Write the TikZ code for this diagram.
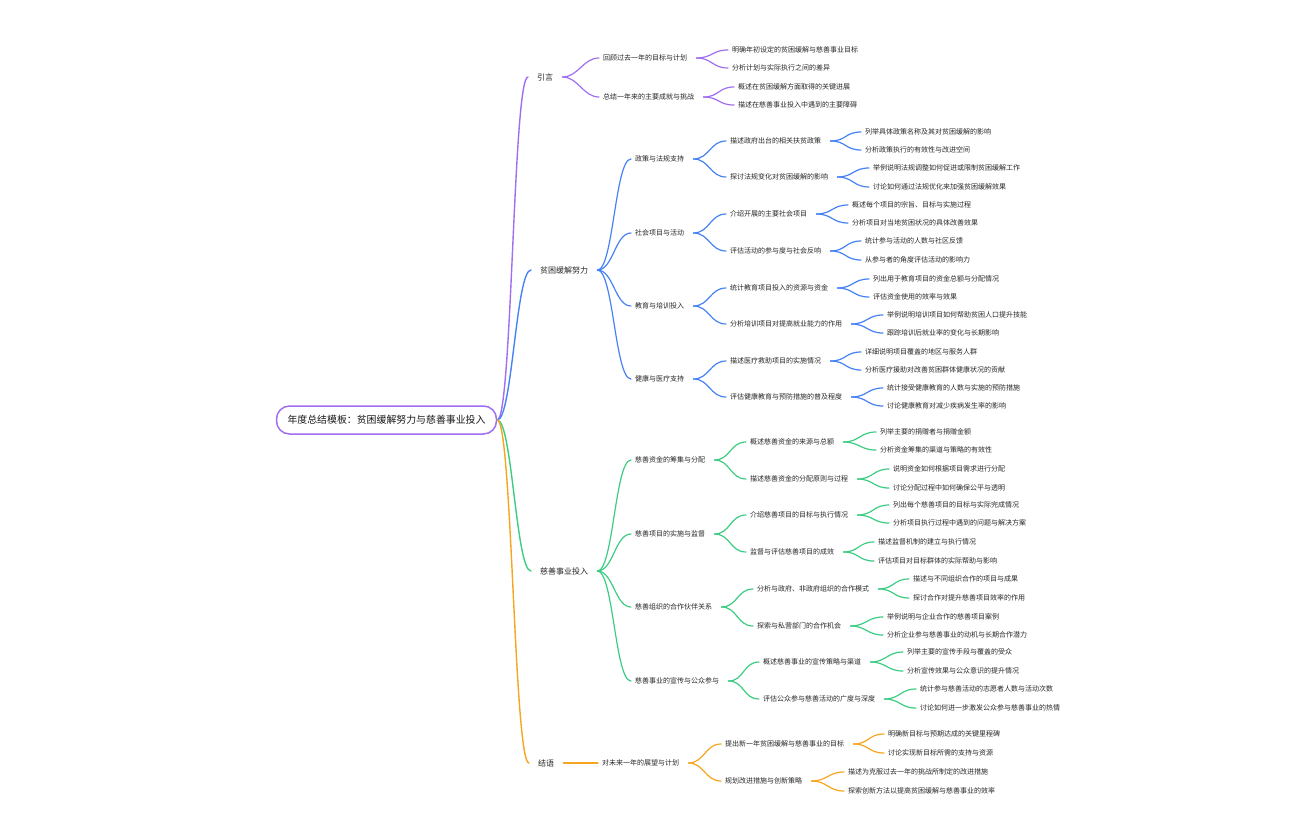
\documentclass[tikz,border=0pt]{standalone}
\usepackage{fontspec}
\usepackage{xcolor}
\usepackage{tikz}
\usetikzlibrary{positioning}
\newfontfamily\cjk{Noto Sans CJK SC}
\definecolor{mmpurple}{RGB}{160,110,240}
\definecolor{mmblue}{RGB}{70,130,245}
\definecolor{mmgreen}{RGB}{60,205,130}
\definecolor{mmorange}{RGB}{245,165,30}

\begin{document}
\begin{tikzpicture}[
            x=1pt, y=-1pt,
            rootbox/.style={rectangle, rounded corners=13pt, draw=mmpurple, line width=1.5pt,
                            fill=white, minimum height=28pt, inner xsep=11pt, text=black!90,
                            font=\cjk\fontsize{9.9}{12}\selectfont},
            topic/.style={anchor=west, inner sep=0pt, text=black!85, font=\cjk\fontsize{8}{10}\selectfont},
            sub/.style={anchor=west, inner sep=0pt, text=black!85, font=\cjk\fontsize{7}{9}\selectfont},
            trunk/.style={line width=1.4pt, line cap=round},
            link/.style={line width=1.2pt, line cap=round}
        ]
        \useasboundingbox (0,0) rectangle (1296,840);

        % ===== ROOT =====
        \node[rootbox] (root) at (386.5,420) {年度总结模板：贫困缓解努力与慈善事业投入};

        % ===== MAIN BRANCHES =====
        \node[topic] (intro) at (537,77) {引言};
        \node[topic] (pov) at (540,270) {贫困缓解努力};
        \node[topic] (char) at (540,571) {慈善事业投入};
        \node[topic] (concl) at (538,763) {结语};

        % ===== INTRO =====
        \node[sub] (i1) at (603,58) {回顾过去一年的目标与计划};
        \node[sub] (i11) at (732,50) {明确年初设定的贫困缓解与慈善事业目标};
        \node[sub] (i12) at (732,68) {分析计划与实际执行之间的差异};
        \node[sub] (i2) at (603,97) {总结一年来的主要成就与挑战};
        \node[sub] (i21) at (738,87) {概述在贫困缓解方面取得的关键进展};
        \node[sub] (i22) at (738,105) {描述在慈善事业投入中遇到的主要障碍};

        % ===== POVERTY RELIEF =====
        \node[sub] (p1) at (635,159) {政策与法规支持};
        \node[sub] (p11) at (730,141) {描述政府出台的相关扶贫政策};
        \node[sub] (p111) at (865,132) {列举具体政策名称及其对贫困缓解的影响};
        \node[sub] (p112) at (865,150) {分析政策执行的有效性与改进空间};
        \node[sub] (p12) at (730,177) {探讨法规变化对贫困缓解的影响};
        \node[sub] (p121) at (873,168) {举例说明法规调整如何促进或限制贫困缓解工作};
        \node[sub] (p122) at (873,187) {讨论如何通过法规优化来加强贫困缓解效果};

        \node[sub] (p2) at (635,233) {社会项目与活动};
        \node[sub] (p21) at (730,214) {介绍开展的主要社会项目};
        \node[sub] (p211) at (852,205) {概述每个项目的宗旨、目标与实施过程};
        \node[sub] (p212) at (852,223) {分析项目对当地贫困状况的具体改善效果};
        \node[sub] (p22) at (730,251) {评估活动的参与度与社会反响};
        \node[sub] (p221) at (865,241) {统计参与活动的人数与社区反馈};
        \node[sub] (p222) at (865,260) {从参与者的角度评估活动的影响力};

        \node[sub] (p3) at (635,306) {教育与培训投入};
        \node[sub] (p31) at (730,288) {统计教育项目投入的资源与资金};
        \node[sub] (p311) at (873,279) {列出用于教育项目的资金总额与分配情况};
        \node[sub] (p312) at (873,297) {评估资金使用的效率与效果};
        \node[sub] (p32) at (730,324) {分析培训项目对提高就业能力的作用};
        \node[sub] (p321) at (887,315) {举例说明培训项目如何帮助贫困人口提升技能};
        \node[sub] (p322) at (887,333) {跟踪培训后就业率的变化与长期影响};

        \node[sub] (p4) at (635,379) {健康与医疗支持};
        \node[sub] (p41) at (730,361) {描述医疗救助项目的实施情况};
        \node[sub] (p411) at (865,352) {详细说明项目覆盖的地区与服务人群};
        \node[sub] (p412) at (865,370) {分析医疗援助对改善贫困群体健康状况的贡献};
        \node[sub] (p42) at (730,397) {评估健康教育与预防措施的普及程度};
        \node[sub] (p421) at (887,388) {统计接受健康教育的人数与实施的预防措施};
        \node[sub] (p422) at (887,406) {讨论健康教育对减少疾病发生率的影响};

        % ===== CHARITY =====
        \node[sub] (c1) at (635,460) {慈善资金的筹集与分配};
        \node[sub] (c11) at (750,442) {概述慈善资金的来源与总额};
        \node[sub] (c111) at (880,432) {列举主要的捐赠者与捐赠金额};
        \node[sub] (c112) at (880,450) {分析资金筹集的渠道与策略的有效性};
        \node[sub] (c12) at (750,479) {描述慈善资金的分配原则与过程};
        \node[sub] (c121) at (893,469) {说明资金如何根据项目需求进行分配};
        \node[sub] (c122) at (893,488) {讨论分配过程中如何确保公平与透明};

        \node[sub] (c2) at (635,534) {慈善项目的实施与监督};
        \node[sub] (c21) at (750,515) {介绍慈善项目的目标与执行情况};
        \node[sub] (c211) at (893,505) {列出每个慈善项目的目标与实际完成情况};
        \node[sub] (c212) at (893,523) {分析项目执行过程中遇到的问题与解决方案};
        \node[sub] (c22) at (750,552) {监督与评估慈善项目的成效};
        \node[sub] (c221) at (878,542) {描述监督机制的建立与执行情况};
        \node[sub] (c222) at (878,561) {评估项目对目标群体的实际帮助与影响};

        \node[sub] (c3) at (635,607) {慈善组织的合作伙伴关系};
        \node[sub] (c31) at (757,589) {分析与政府、非政府组织的合作模式};
        \node[sub] (c311) at (913,579) {描述与不同组织合作的项目与成果};
        \node[sub] (c312) at (913,598) {探讨合作对提升慈善项目效率的作用};
        \node[sub] (c32) at (757,626) {探索与私营部门的合作机会};
        \node[sub] (c321) at (887,617) {举例说明与企业合作的慈善项目案例};
        \node[sub] (c322) at (887,635) {分析企业参与慈善事业的动机与长期合作潜力};

        \node[sub] (c4) at (635,681) {慈善事业的宣传与公众参与};
        \node[sub] (c41) at (763,662) {概述慈善事业的宣传策略与渠道};
        \node[sub] (c411) at (907,652) {列举主要的宣传手段与覆盖的受众};
        \node[sub] (c412) at (907,671) {分析宣传效果与公众意识的提升情况};
        \node[sub] (c42) at (763,699) {评估公众参与慈善活动的广度与深度};
        \node[sub] (c421) at (920,689) {统计参与慈善活动的志愿者人数与活动次数};
        \node[sub] (c422) at (920,708) {讨论如何进一步激发公众参与慈善事业的热情};

        % ===== CONCLUSION =====
        \node[sub] (e1) at (602,763) {对未来一年的展望与计划};
        \node[sub] (e11) at (725,744) {提出新一年贫困缓解与慈善事业的目标};
        \node[sub] (e111) at (888,734) {明确新目标与预期达成的关键里程碑};
        \node[sub] (e112) at (888,753) {讨论实现新目标所需的支持与资源};
        \node[sub] (e12) at (725,781) {规划改进措施与创新策略};
        \node[sub] (e121) at (848,772) {描述为克服过去一年的挑战所制定的改进措施};
        \node[sub] (e122) at (848,791) {探索创新方法以提高贫困缓解与慈善事业的效率};

        % ===== CONNECTORS =====
        % root to main branches
        \draw[trunk, mmpurple] (root.east) .. controls +(15,0) and +(-15,0) .. ([xshift=-9pt]intro.west);
        \draw[trunk, mmblue] (root.east) .. controls +(15,0) and +(-15,0) .. ([xshift=-9pt]pov.west);
        \draw[trunk, mmgreen] (root.east) .. controls +(15,0) and +(-15,0) .. ([xshift=-9pt]char.west);
        \draw[trunk, mmorange] (root.east) .. controls +(15,0) and +(-15,0) .. ([xshift=-9pt]concl.west);

        % branch trees
        \foreach \a/\b in {intro/i1, intro/i2, i1/i11, i1/i12, i2/i21, i2/i22}
            \draw[link, mmpurple] ([xshift=9pt]\a.east) .. controls +(16,0) and +(-16,0) .. ([xshift=-4pt]\b.west);
        \foreach \a/\b in {pov/p1, pov/p2, pov/p3, pov/p4,
                           p1/p11, p1/p12, p2/p21, p2/p22, p3/p31, p3/p32, p4/p41, p4/p42,
                           p11/p111, p11/p112, p12/p121, p12/p122, p21/p211, p21/p212, p22/p221, p22/p222,
                           p31/p311, p31/p312, p32/p321, p32/p322, p41/p411, p41/p412, p42/p421, p42/p422}
            \draw[link, mmblue] ([xshift=9pt]\a.east) .. controls +(16,0) and +(-16,0) .. ([xshift=-4pt]\b.west);
        \foreach \a/\b in {char/c1, char/c2, char/c3, char/c4,
                           c1/c11, c1/c12, c2/c21, c2/c22, c3/c31, c3/c32, c4/c41, c4/c42,
                           c11/c111, c11/c112, c12/c121, c12/c122, c21/c211, c21/c212, c22/c221, c22/c222,
                           c31/c311, c31/c312, c32/c321, c32/c322, c41/c411, c41/c412, c42/c421, c42/c422}
            \draw[link, mmgreen] ([xshift=9pt]\a.east) .. controls +(16,0) and +(-16,0) .. ([xshift=-4pt]\b.west);
        \draw[link, mmorange] ([xshift=9pt]concl.east) -- ([xshift=-4pt]e1.west);
        \foreach \a/\b in {e1/e11, e1/e12, e11/e111, e11/e112, e12/e121, e12/e122}
            \draw[link, mmorange] ([xshift=9pt]\a.east) .. controls +(16,0) and +(-16,0) .. ([xshift=-4pt]\b.west);

\end{tikzpicture}
\end{document}
